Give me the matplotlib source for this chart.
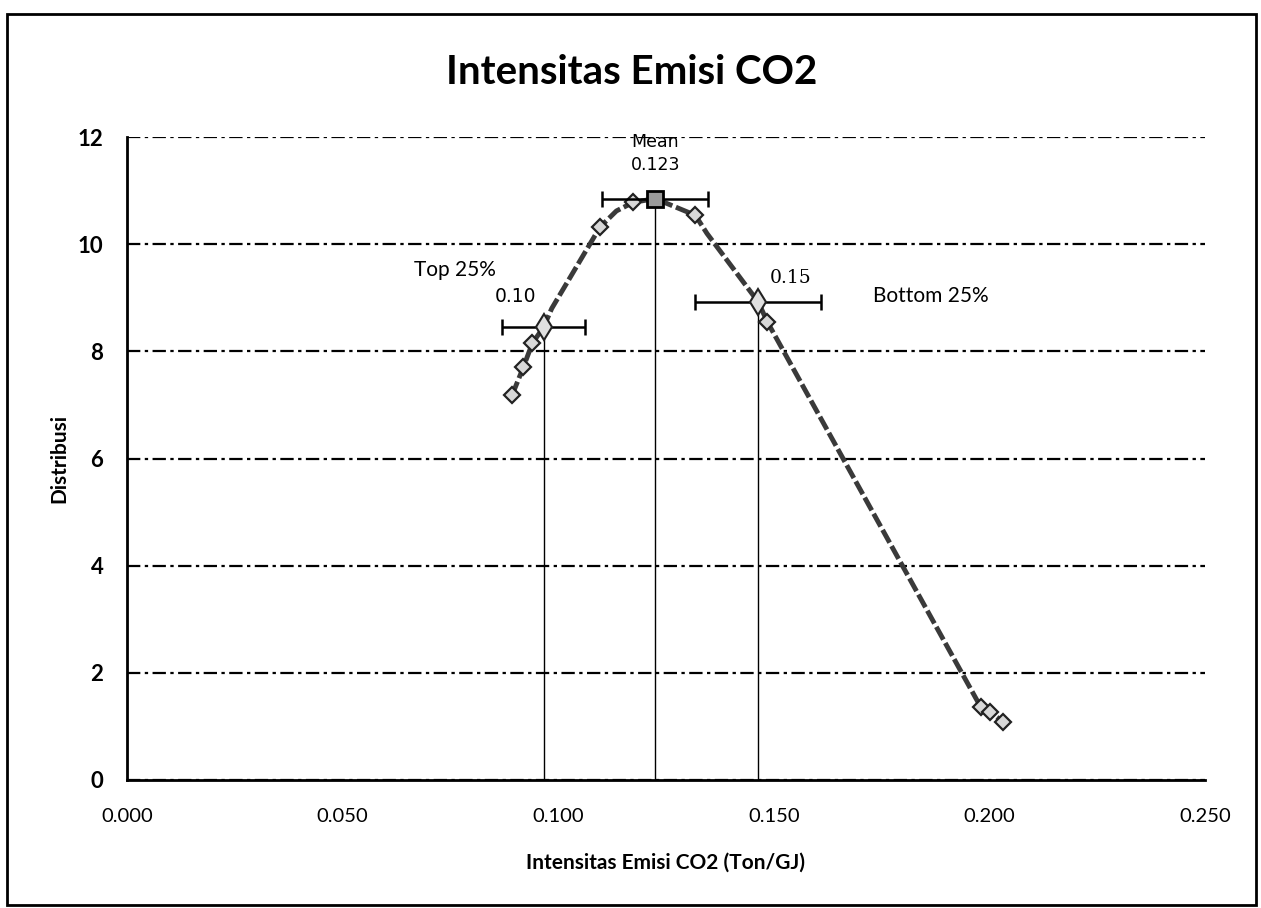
import matplotlib
matplotlib.use("Agg")
import matplotlib.pyplot as plt
from matplotlib.patches import Rectangle

# ---- data ----
curve_x = [0.0893, 0.0919, 0.0940, 0.0966, 0.0985, 0.1097, 0.1135, 0.1174, 0.1225,
           0.1318, 0.1345, 0.1464, 0.1485, 0.1980, 0.2002, 0.2032]
curve_y = [7.18, 7.70, 8.15, 8.45, 8.80, 10.32, 10.62, 10.78, 10.85,
           10.54, 10.20, 8.92, 8.55, 1.36, 1.27, 1.08]

marker_x = [0.0893, 0.0919, 0.0940, 0.1097, 0.1174, 0.1318, 0.1485, 0.1980, 0.2002, 0.2032]
marker_y = [7.18, 7.70, 8.15, 10.32, 10.78, 10.54, 8.55, 1.36, 1.27, 1.08]

stat_names = ["Top 25%", "Mean", "Bottom 25%"]
stat_x = [0.0966, 0.1225, 0.1464]
stat_y = [8.45, 10.85, 8.92]
stat_xerr_pct = 0.10
stat_value_labels = ["0.10", "0.123", "0.15"]

title = "Intensitas Emisi CO2"
xlabel = "Intensitas Emisi CO2 (Ton/GJ)"
ylabel = "Distribusi"
xticks = [0.000, 0.050, 0.100, 0.150, 0.200, 0.250]
yticks = [0, 2, 4, 6, 8, 10, 12]

# ---- figure ----
W, H = 1261, 908
fig = plt.figure(figsize=(W / 100, H / 100), dpi=100)
fig.patch.set_facecolor("white")

# outer chart border
fig.add_artist(Rectangle((7 / W, 1 - 905 / H), (1256 - 7) / W, (905 - 14) / H,
                         transform=fig.transFigure, fill=False, edgecolor="black",
                         linewidth=2.0))

ax = fig.add_axes([127 / W, 1 - 780 / H, (1205 - 127) / W, (780 - 137) / H])
ax.set_xlim(0, 0.25)
ax.set_ylim(0, 12)

for s in ["top", "right"]:
    ax.spines[s].set_visible(False)
ax.spines["left"].set_linewidth(2.0)
ax.spines["bottom"].set_linewidth(2.0)

ax.set_yticks(yticks)
ax.set_xticks(xticks)
ax.set_xticklabels([f"{v:.3f}" for v in xticks], fontfamily="Lato", fontsize=14.5)
ax.set_yticklabels([str(v) for v in yticks], fontfamily="Lato",
                   fontweight="bold", fontsize=16)
ax.tick_params(axis="both", length=0)
ax.tick_params(axis="x", pad=20)
ax.tick_params(axis="y", pad=17)

ax.yaxis.grid(True, color="black", linestyle=(0, (6, 2, 1.5, 2)), linewidth=1.6)
ax.set_axisbelow(True)

# vertical reference lines
for xv, yv in zip(stat_x, stat_y):
    ax.plot([xv, xv], [0, yv], color="black", linewidth=1.0, zorder=2)

# curve
ax.plot(curve_x, curve_y, color="#3a3a3a", linewidth=3.5, zorder=3,
        dashes=(3, 0.8))
ax.plot(marker_x, marker_y, linestyle="none", marker="D", markersize=8,
        markerfacecolor="#d8d8d8", markeredgecolor="#222222", markeredgewidth=1.6,
        zorder=4)

# statistic points with 10% x error bars
for xv, yv in zip(stat_x, stat_y):
    ax.errorbar([xv], [yv], xerr=[xv * stat_xerr_pct], fmt="none", ecolor="black",
                elinewidth=1.8, capsize=6, capthick=1.8, zorder=5)
ax.plot([stat_x[1]], [stat_y[1]], marker="s", markersize=11,
        markerfacecolor="#9a9a9a", markeredgecolor="black", markeredgewidth=2, zorder=6)
ax.plot([stat_x[0]], [stat_y[0]], marker="d", markersize=13,
        markerfacecolor="#e0e0e0", markeredgecolor="#222222", markeredgewidth=1.5, zorder=6)
ax.plot([stat_x[2]], [stat_y[2]], marker="d", markersize=13,
        markerfacecolor="#e0e0e0", markeredgecolor="#222222", markeredgewidth=1.5, zorder=6)

# annotations
ax.text(stat_x[1], 11.90, stat_names[1], ha="center", va="center",
        fontfamily="DejaVu Sans", fontsize=12.5)
ax.text(stat_x[1], 11.47, stat_value_labels[1], ha="center", va="center",
        fontfamily="DejaVu Sans", fontsize=12.5)
ax.text(0.0761, 9.51, stat_names[0], ha="center", va="center",
        fontfamily="Lato", fontsize=15)
ax.text(0.0902, 9.03, stat_value_labels[0], ha="center", va="center",
        fontfamily="DejaVu Sans", fontsize=13.5)
ax.text(0.1538, 9.37, stat_value_labels[2], ha="center", va="center",
        fontfamily="DejaVu Serif", fontsize=13.5)
ax.text(0.1863, 9.03, stat_names[2], ha="center", va="center",
        fontfamily="Lato", fontsize=15)

# labels / title
ax.set_xlabel(xlabel, fontfamily="Lato", fontweight="bold", fontsize=15, labelpad=20)
ax.set_ylabel(ylabel, fontfamily="Lato", fontweight="bold", fontsize=15, labelpad=6)
fig.text(632 / W, 1 - 72 / H, title, ha="center", va="center",
         fontfamily="Lato", fontweight="bold", fontsize=29)

fig.savefig("out.png", dpi=100)
